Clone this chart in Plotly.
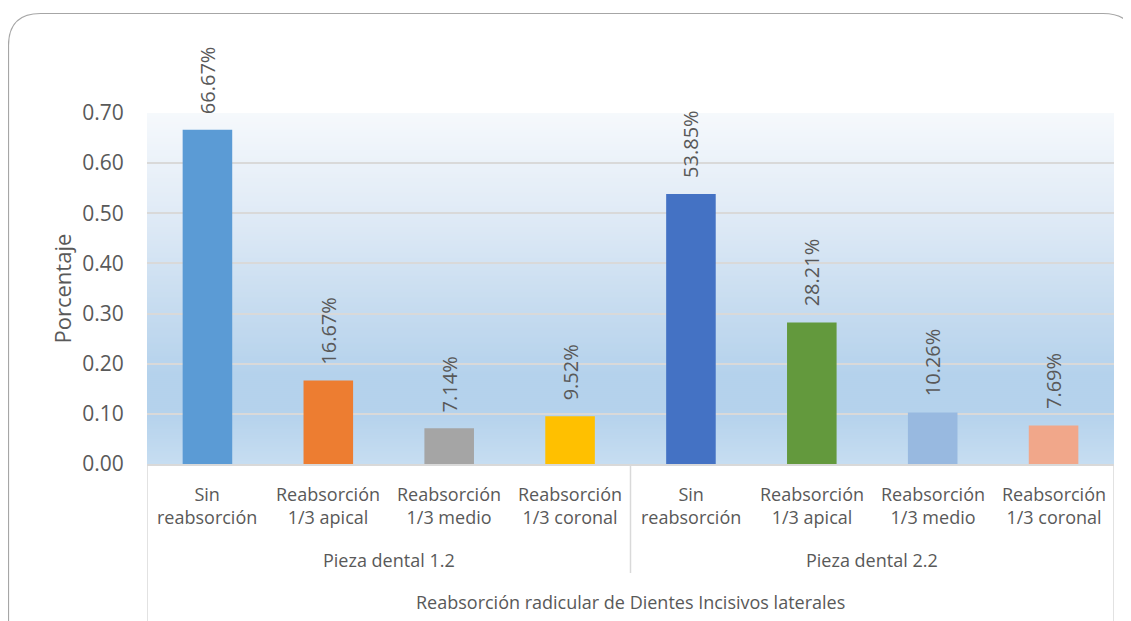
import plotly.graph_objects as go

# ---------------- data ----------------
groups = ["Pieza dental 1.2", "Pieza dental 2.2"]
categories = ["Sin<br>reabsorción", "Reabsorción<br>1/3 apical",
              "Reabsorción<br>1/3 medio", "Reabsorción<br>1/3 coronal"]
values_12 = [0.6667, 0.1667, 0.0714, 0.0952]
values_22 = [0.5385, 0.2821, 0.1026, 0.0769]
bar_colors = ["#5b9bd5", "#ed7d31", "#a5a5a5", "#ffc000",
              "#4472c4", "#63993d", "#98b9e0", "#f1a78a"]
y_ticks = [0.0, 0.1, 0.2, 0.3, 0.4, 0.5, 0.6, 0.7]
x_title = "Reabsorción radicular de Dientes Incisivos laterales"
y_title = "Porcentaje"

values = values_12 + values_22
labels = categories * len(groups)
n = len(values)
pos = list(range(n))

TXT = "#595959"
FONT = "Open Sans"
OFF = 8  # default page body margin
W, H = 1131 - OFF, 621 - OFF
# plot area in screen pixels
SL, SR, ST, SB = 147, 1114, 113, 464
L, R, T, B = SL - OFF, W - (SR - OFF), ST - OFF, H - (SB - OFF)
PW, PH = SR - SL, SB - ST

def px(x):  # screen pixel -> paper x
    return (x - SL) / PW

def py(y):  # screen pixel -> paper y
    return (SB - y) / PH

fig = go.Figure()
fig.add_trace(go.Bar(x=pos, y=values, marker=dict(color=bar_colors, line=dict(width=0)),
                     width=0.41, hoverinfo="skip", showlegend=False))

annotations = []
for p, v in zip(pos, values):
    annotations.append(dict(x=p, y=v, xref="x", yref="y", text=f"{v*100:.2f}%",
                            textangle=-90, showarrow=False, yanchor="bottom",
                            xanchor="center", yshift=14,
                            font=dict(family=FONT, size=20, color=TXT)))
for p, lab in zip(pos, labels):
    annotations.append(dict(x=p, y=py(505.5), xref="x", yref="paper", text=lab,
                            showarrow=False, yanchor="middle", xanchor="center",
                            font=dict(family=FONT, size=18, color=TXT)))
per = len(categories)
for gi, g in enumerate(groups):
    cx = (pos[gi * per] + pos[gi * per + per - 1]) / 2
    annotations.append(dict(x=cx, y=py(560), xref="x", yref="paper", text=g,
                            showarrow=False, yanchor="middle", xanchor="center",
                            font=dict(family=FONT, size=18, color=TXT)))
annotations.append(dict(x=(pos[0] + pos[-1]) / 2, y=py(602), xref="x", yref="paper",
                        text=x_title, showarrow=False, yanchor="middle", xanchor="center",
                        font=dict(family=FONT, size=18, color=TXT)))
annotations.append(dict(x=px(61), y=0.5, xref="paper", yref="paper", text=y_title,
                        textangle=-90, showarrow=False, yanchor="middle", xanchor="center",
                        font=dict(family=FONT, size=22, color=TXT)))

shapes = []
stops = [(0.0, (246, 249, 252)), (0.3, (223, 234, 246)), (0.57, (197, 219, 239)),
         (0.75, (181, 210, 236)), (0.86, (181, 210, 236)), (1.0, (198, 221, 241))]
nb = 175
for i in range(nb):
    t = (i + 0.5) / nb
    for k in range(len(stops) - 1):
        if stops[k][0] <= t <= stops[k + 1][0]:
            a, ca = stops[k]
            b, cb = stops[k + 1]
            f = (t - a) / (b - a)
            c = tuple(int(round(ca[j] + (cb[j] - ca[j]) * f)) for j in range(3))
            break
    shapes.append(dict(type="rect", xref="paper", yref="paper", x0=0, x1=1,
                       y0=1 - (i + 1) / nb, y1=min(1, 1 - i / nb + 0.003), layer="below",
                       fillcolor=f"rgb{c}", line=dict(width=0)))
LC = "#d9d9d9"
shapes.append(dict(type="line", xref="x", yref="paper", x0=pos[0] - 0.5, x1=pos[0] - 0.5,
                   y0=0, y1=py(640), line=dict(color=LC, width=1.5)))
shapes.append(dict(type="line", xref="x", yref="paper", x0=pos[-1] + 0.5, x1=pos[-1] + 0.5,
                   y0=0, y1=py(640), line=dict(color=LC, width=1.5)))
for gi in range(1, len(groups)):
    xd = pos[gi * per] - 0.5
    shapes.append(dict(type="line", xref="x", yref="paper", x0=xd, x1=xd,
                       y0=0, y1=py(573), line=dict(color=LC, width=1.5)))
x0, x1, y0, y1, r = 8.5, 1135, 13.5, 660, 32
path = (f"M {px(x0)},{py(y0 + r)} Q {px(x0)},{py(y0)} {px(x0 + r)},{py(y0)} "
        f"L {px(x1 - r)},{py(y0)} Q {px(x1)},{py(y0)} {px(x1)},{py(y0 + r)} "
        f"L {px(x1)},{py(y1)} L {px(x0)},{py(y1)} Z")
shapes.append(dict(type="path", xref="paper", yref="paper", path=path,
                   line=dict(color="#a6a6a6", width=1.2), fillcolor="rgba(0,0,0,0)",
                   layer="above"))

fig.update_layout(
    width=W, height=H,
    margin=dict(l=L, r=R, t=T, b=B, pad=0),
    paper_bgcolor="white", plot_bgcolor="white",
    bargap=0.59,
    annotations=annotations, shapes=shapes,
    xaxis=dict(range=[pos[0] - 0.5, pos[-1] + 0.5], showticklabels=False, showgrid=False,
               zeroline=False, showline=True, linecolor=LC, linewidth=1.5, ticks=""),
    yaxis=dict(range=[0, 0.7], tickvals=y_ticks, tickformat=".2f", showgrid=True,
               gridcolor=LC, gridwidth=1.5, zeroline=False, showline=False,
               ticks="outside", ticklen=18, tickcolor="rgba(0,0,0,0)",
               tickfont=dict(family=FONT, size=21, color=TXT)),
    font=dict(family=FONT, color=TXT),
)

fig.write_html("out.html")
